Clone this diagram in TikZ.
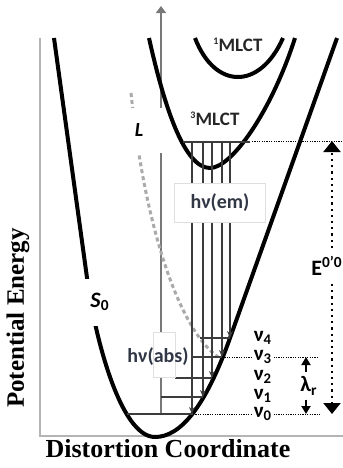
\documentclass[tikz,border=0pt]{standalone}
\usepackage{fontspec}
\setmainfont{Carlito}
\newfontfamily\axisfont{Liberation Serif}
\usetikzlibrary{arrows.meta}
\definecolor{frameGray}{RGB}{180,180,180}
\definecolor{axisGray}{RGB}{120,120,120}
\definecolor{lineGray}{RGB}{60,60,60}
\definecolor{ligandGray}{RGB}{170,170,170}
\definecolor{textSlate}{RGB}{50,55,70}
\newcommand{\tinysup}[1]{\raisebox{0.7ex}{\fontsize{5}{6}\selectfont #1}}

\begin{document}
\begin{tikzpicture}[x=0.5pt, y=-0.5pt,
    well/.style={line width=2pt, black},
    level/.style={line width=0.7pt, lineGray},
    emit/.style={line width=0.7pt, lineGray, -{Stealth[length=3.5pt,width=3pt]}},
    guide/.style={line width=0.5pt, dash pattern=on 0.6pt off 0.6pt},
    lab/.style={font=\bfseries\fontsize{11}{13}\selectfont, inner sep=1pt},
    nulab/.style={font=\bfseries\fontsize{10.5}{12}\selectfont, inner sep=0.5pt},
    hvbox/.style={fill=white, draw=gray!25, line width=0.4pt},
    hvtext/.style={font=\bfseries\fontsize{10}{12}\selectfont, text=textSlate, inner sep=1pt}]
  \useasboundingbox (0,0) rectangle (343,468);
  % frame and energy axis
  \draw[frameGray, line width=1pt] (40,38) -- (40,436) -- (343,436);
  \draw[axisGray, line width=1pt, -{Triangle[length=3.5pt,width=5pt]}] (161,414) -- (161,6);
  \draw[ligandGray, line width=1.5pt, dash pattern=on 2pt off 1.5pt]
    (131,93) .. controls (145,230) and (180,330) .. (218,357);
  \node[fill=white, minimum width=25pt, minimum height=22.5pt, font=\bfseries\itshape\fontsize{10}{12}\selectfont] (L) at (139,130) {L};
  % potential wells
  \draw[well] (54,38) -- (88,285) .. controls (95,335) and (120,437) .. (155,437)
    .. controls (180,437) and (205,408) .. (230,338) -- (337,38);
  \draw[well] (149,38) .. controls (165,110) and (185,168) .. (210,168)
    .. controls (232,168) and (272,110) .. (295,38);
  \draw[well] (195,38) .. controls (215,90) and (260,90) .. (283,38);
  \node[lab, fill=white, minimum width=16pt, minimum height=23.5pt] (S0) at (100,302) {\textit{S}\textsubscript{0}};
  \node[font=\bfseries\fontsize{9.5}{11}\selectfont, text=black!85] (singlet) at (238,45) {\tinysup{1}MLCT};
  \node[font=\bfseries\fontsize{9.5}{11}\selectfont, text=black!85] (triplet) at (215,119) {\tinysup{3}MLCT};
  % levels and transitions
  \draw[level] (183,142) -- (250,142);
  \draw[guide] (252,141) -- (343,141);
  \draw[level] (127,414) -- (193,414);
  \draw[level] (161,397) -- (203,397);
  \draw[level] (175,378) -- (212,378);
  \draw[level] (200,338) -- (230,338);
  \draw[emit] (192,142) -- (192,414);
  \draw[emit] (203,142) -- (203,397);
  \draw[emit] (212,142) -- (212,378);
  \draw[emit] (222,142) -- (222,357);
  \draw[emit] (230,142) -- (230,338);
  \node[hvbox, minimum width=45.5pt, minimum height=19.5pt] (em) at (220,203) {};
  \node[hvtext] at (em) {hν(em)};
  \node[hvbox, minimum width=11pt, minimum height=22.5pt] (absbox) at (164,355) {};
  \node[hvtext] (abs) at (158,357) {hν(abs)};
  \draw[level] (abs.east) -- (222,357);
  % vibrational labels
  \node[nulab] (nu4) at (263,338) {ν\textsubscript{4}};
  \node[nulab] (nu3) at (263,357) {ν\textsubscript{3}};
  \node[nulab] (nu2) at (263,377) {ν\textsubscript{2}};
  \node[nulab] (nu1) at (263,396) {ν\textsubscript{1}};
  \node[nulab] (nu0) at (263,414) {ν\textsubscript{0}};
  \draw[guide] (222,357) -- (nu3.west);
  \draw[guide] (nu3.east) -- (318,357);
  \draw[guide] (193,414) -- (nu0.west);
  \draw[guide] (nu0.east) -- (320,414);
  \coordinate (lamtop) at (306,357);
  \coordinate (lambot) at (306,414);
  \node[lab, inner sep=2pt] (lam) at (309,386) {λ\textsubscript{r}};
  \draw[line width=1pt, -{Triangle[length=4pt,width=4.5pt]}] (lam.north -| lamtop) -- (lamtop);
  \draw[line width=1pt, -{Triangle[length=4pt,width=4.5pt]}] (lam.south -| lambot) -- (lambot);
  \coordinate (Etop) at (332,141);
  \coordinate (Ebot) at (332,414);
  \node[lab, inner sep=4pt] (E) at (327,266) {E\textsuperscript{0'0}};
  \draw[line width=1.1pt, dotted, -{Triangle[length=5.5pt,width=8.5pt]}] (E.north -| Etop) -- (Etop);
  \draw[line width=1.1pt, dotted, -{Triangle[length=5.5pt,width=8.5pt]}] (E.south -| Ebot) -- (Ebot);
  % axis titles
  \node[font=\axisfont\bfseries\fontsize{13}{16}\selectfont] (xlab) at (168,449) {Distortion Coordinate};
  \node[font=\axisfont\bfseries\fontsize{12.5}{15}\selectfont, rotate=90] (ylab) at (18,318) {Potential Energy};
\end{tikzpicture}
\end{document}
